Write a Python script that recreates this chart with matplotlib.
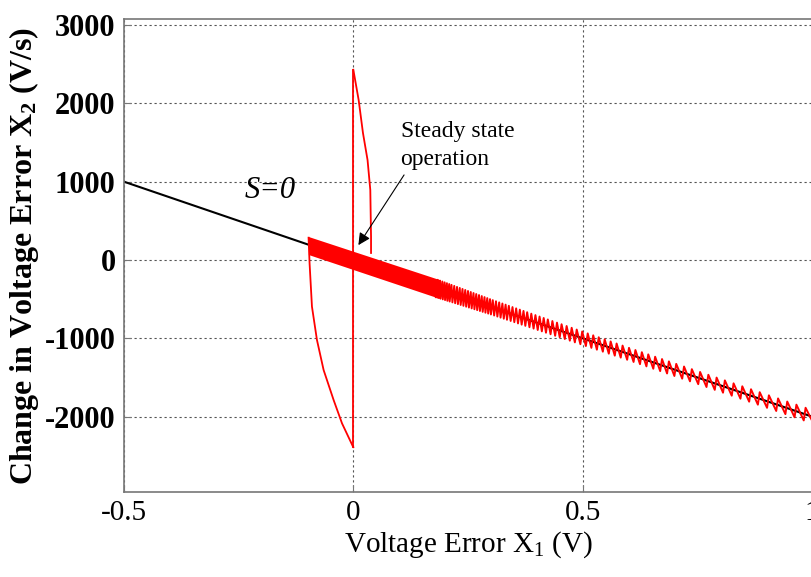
import numpy as np
import matplotlib
matplotlib.use("Agg")
import matplotlib.pyplot as plt

plt.rcParams['font.family'] = ['Liberation Serif', 'DejaVu Serif']
plt.rcParams['mathtext.fontset'] = 'custom'
plt.rcParams['mathtext.rm'] = 'Liberation Serif'
plt.rcParams['mathtext.it'] = 'Liberation Serif:italic'
plt.rcParams['mathtext.bf'] = 'Liberation Serif:bold'

# sliding surface S=0 (x1, x2)
s_x = [-0.5, 1.0]
s_y = [1000, -2000]

# reaching part of the trajectory
jump_x = [0.0, 0.0]
jump_y = [-2390, 2430]
right_x = [0.0, 0.0116, 0.021, 0.031, 0.037, 0.0386, 0.0386]
right_y = [2430, 2043, 1622, 1277, 894, 294, 90]
left_x = [-0.0976, -0.0954, -0.0902, -0.0793, -0.0648, -0.043, -0.0247, -0.0007, 0.0]
left_y = [285, -42, -596, -1022, -1405, -1788, -2086, -2384, -2390]

# dense chattering band near the origin
band_x = [-0.098, 0.19]
band_top = [300, -255]
band_bot = [70, -495]

# chattering teeth along the surface (x position of each tooth)
teeth_x = [0.180, 0.185, 0.190, 0.195,
           0.200, 0.205, 0.210, 0.216, 0.222, 0.228, 0.234, 0.240, 0.246, 0.252,
           0.258, 0.264, 0.270, 0.276, 0.282, 0.288, 0.294, 0.300,
           0.307, 0.314, 0.321, 0.328, 0.335, 0.343, 0.351, 0.359, 0.367, 0.375,
           0.384, 0.393, 0.402, 0.411, 0.420, 0.430, 0.440, 0.450,
           0.461, 0.472, 0.483, 0.495, 0.507, 0.519, 0.531, 0.544, 0.557, 0.570,
           0.583, 0.597, 0.611, 0.625, 0.639, 0.654, 0.669, 0.684, 0.700,
           0.717, 0.734, 0.752, 0.770, 0.788, 0.806, 0.825, 0.844, 0.863, 0.882,
           0.902, 0.922, 0.942, 0.962, 0.982, 1.003]
# half height of the chattering (V/s) at a few x1 values
ripple_x = [0.18, 0.3, 0.6, 1.0]
ripple_v = [115, 95, 80, 85]

xticks = [-0.5, 0, 0.5, 1]
xtick_labels = ['-0.5', '0', '0.5', '1']
yticks = [-2000, -1000, 0, 1000, 2000, 3000]

fig = plt.figure(figsize=(8.11, 5.77), dpi=100)
ax = fig.add_axes([124/811, 85/577, 688/811, 473/577])

ax.plot(s_x, s_y, color='black', lw=1.5, zorder=2)

ax.fill_between(band_x, band_bot, band_top, color='red', lw=0, zorder=3)
zx, zy = [], []
for t in teeth_x:
    a = np.interp(t, ripple_x, ripple_v)
    zx += [t, t + 0.004]
    zy += [np.interp(t, s_x, s_y) - a, np.interp(t + 0.004, s_x, s_y) + a]
ax.plot(zx, zy, color='red', lw=1.4, zorder=3)
ax.plot(jump_x, jump_y, color='red', lw=1.3, zorder=3)
ax.plot(right_x, right_y, color='red', lw=1.3, zorder=3)
ax.plot(left_x, left_y, color='red', lw=1.3, zorder=3)

ax.text(-0.181, 890, 'S=0', fontsize=22, fontstyle='italic', ha='center', va='center')
ax.annotate('Steady state\noperation', xy=(0.011, 190), xytext=(0.103, 1780),
            fontsize=17, ha='left', va='top', linespacing=1.45,
            arrowprops=dict(arrowstyle='-|>', color='black', lw=0.8,
                            mutation_scale=18, shrinkA=2, shrinkB=0,
                            relpos=(0.06, 0.0)))

ax.set_xlim(-0.5, 1.0)
ax.set_ylim(-2963, 3078)
ax.set_xticks(xticks)
ax.set_xticklabels(xtick_labels, fontsize=21)
ax.set_yticks(yticks)
ax.set_yticklabels([str(v) for v in yticks], fontsize=22, fontweight='bold')
ax.tick_params(direction='in', length=5, color='#777777', pad=6)

ax.grid(True, color='#555555', lw=0.8, linestyle=(0, (2, 2.5)))
for sp in ax.spines.values():
    sp.set_color('#777777')
    sp.set_linewidth(1.2)

ax.set_xlabel('Voltage Error X$_1$ (V)', fontsize=21, labelpad=2)
ax.set_ylabel('Change in Voltage Error X$_\\mathbf{2}$ (V/s)', fontsize=23,
              fontweight='bold', labelpad=3)

fig.savefig('out.png', dpi=100)
